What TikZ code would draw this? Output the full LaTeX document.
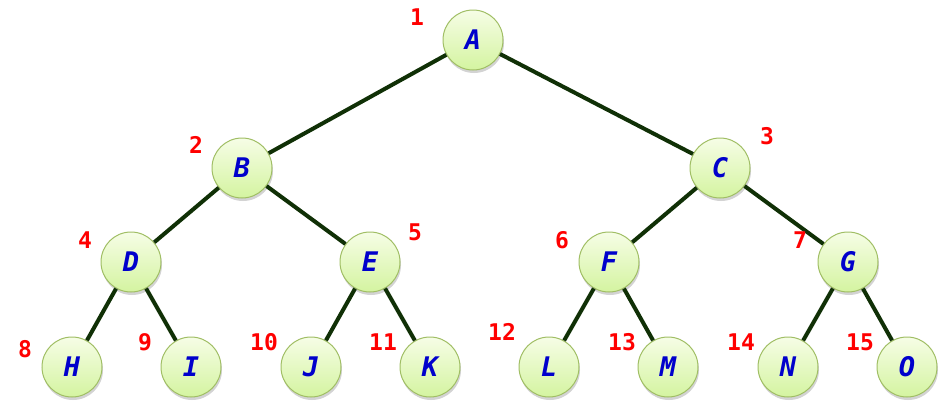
\documentclass[tikz,border=0pt]{standalone}
\usepackage{fontspec}
\newfontfamily\treefont{DejaVu Sans Mono}
\usetikzlibrary{shadows}
\definecolor{edgegreen}{RGB}{16,48,6}
\definecolor{ringgreen}{RGB}{160,190,100}
\definecolor{topgreen}{RGB}{246,253,230}
\definecolor{botgreen}{RGB}{212,244,160}
\definecolor{lettblue}{RGB}{0,0,204}
\tikzset{
  vert/.style={circle,minimum size=60pt,inner sep=0pt,draw=ringgreen,line width=1pt,
    top color=topgreen,bottom color=botgreen,
    drop shadow={opacity=0.35,shadow xshift=1pt,shadow yshift=-3pt},
    text=lettblue,font=\treefont\bfseries\itshape\fontsize{27}{27}\selectfont},
  num/.style={text=red,font=\treefont\bfseries\fontsize{23}{23}\selectfont},
  branch/.style={draw=edgegreen,line width=4pt}
}
\begin{document}
\begin{tikzpicture}[x=1pt,y=-1pt]
  \useasboundingbox (0,0) rectangle (943,402);
  % the tree
  \node[vert] (A) at (473,40) {A};
  \node[vert] (B) at (242,168) {B};
  \node[vert] (C) at (720,168) {C};
  \node[vert] (D) at (131,262) {D};
  \node[vert] (E) at (370,262) {E};
  \node[vert] (F) at (609,262) {F};
  \node[vert] (G) at (848,262) {G};
  \node[vert] (H) at (72,367) {H};
  \node[vert] (I) at (191,367) {I};
  \node[vert] (J) at (311,367) {J};
  \node[vert] (K) at (430,367) {K};
  \node[vert] (L) at (549,367) {L};
  \node[vert] (M) at (668,367) {M};
  \node[vert] (N) at (788,367) {N};
  \node[vert] (O) at (907,367) {O};
  \draw[branch] (A) -- (B);
  \draw[branch] (A) -- (C);
  \draw[branch] (B) -- (D);
  \draw[branch] (B) -- (E);
  \draw[branch] (C) -- (F);
  \draw[branch] (C) -- (G);
  \draw[branch] (D) -- (H);
  \draw[branch] (D) -- (I);
  \draw[branch] (E) -- (J);
  \draw[branch] (E) -- (K);
  \draw[branch] (F) -- (L);
  \draw[branch] (F) -- (M);
  \draw[branch] (G) -- (N);
  \draw[branch] (G) -- (O);
  % numbering
  \node[num] (n1) at (417,17) {1};
  \node[num] (n2) at (196,145) {2};
  \node[num] (n3) at (767,136) {3};
  \node[num] (n4) at (85,240) {4};
  \node[num] (n5) at (415,232) {5};
  \node[num] (n6) at (562,240) {6};
  \node[num] (n7) at (800,240) {7};
  \node[num] (n8) at (25,349) {8};
  \node[num] (n9) at (145,342) {9};
  \node[num] (n10) at (264,342) {10};
  \node[num] (n11) at (383,342) {11};
  \node[num] (n12) at (502,332) {12};
  \node[num] (n13) at (622,342) {13};
  \node[num] (n14) at (741,342) {14};
  \node[num] (n15) at (860,342) {15};
\end{tikzpicture}
\end{document}
